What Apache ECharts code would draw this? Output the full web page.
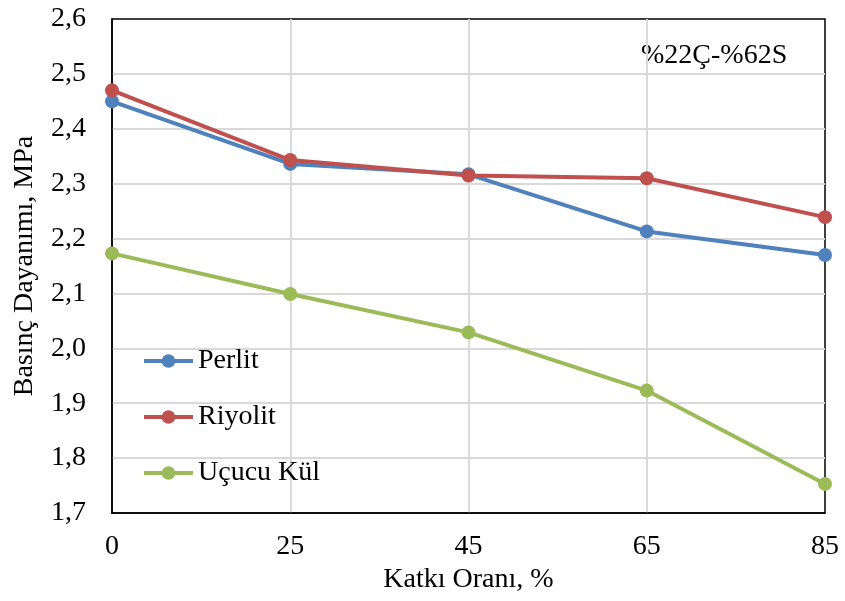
<!DOCTYPE html>
<html><head><meta charset="utf-8">
<script src="https://cdn.jsdelivr.net/npm/echarts@6/dist/echarts.min.js"></script>
<style>html,body{margin:0;padding:0;background:#fff}#c{width:845px;height:601px}</style>
</head><body><div id="c"></div>
<script>
const categories = ['0', '25', '45', '65', '85'];
const perlit = [2.45, 2.336, 2.317, 2.213, 2.170];
const riyolit = [2.47, 2.343, 2.315, 2.310, 2.239];
const ucucuKul = [2.173, 2.099, 2.029, 1.923, 1.753];
const seriesNames = ['Perlit', 'Riyolit', 'Uçucu Kül'];
const colors = ['#4F81BD', '#C0504D', '#9BBB59'];
const font = 'Liberation Serif';

const chart = echarts.init(document.getElementById('c'));
const mk = (name, data, color) => ({
  name, type: 'line', data, color,
  symbol: 'circle', symbolSize: 14,
  lineStyle: { width: 4, color },
  itemStyle: { color },
  z: 3
});
chart.setOption({
  animation: false,
  textStyle: { fontFamily: font, color: '#000' },
  grid: { left: 112, right: 20, top: 19, bottom: 88, show: true, borderColor: '#000', borderWidth: 1.5, containLabel: false },
  legend: {
    orient: 'vertical', left: 137, top: 342,
    itemWidth: 49, itemHeight: 17, itemGap: 28,
    data: seriesNames,
    lineStyle: { width: 4 },
    textStyle: { fontFamily: font, fontSize: 28, color: '#000', lineHeight: 28 }
  },
  xAxis: {
    type: 'category', data: categories, boundaryGap: false,
    name: 'Katkı Oranı, %', nameLocation: 'middle', nameGap: 51,
    nameTextStyle: { fontFamily: font, fontSize: 28, color: '#000' },
    axisLine: { lineStyle: { color: '#000', width: 1.5 } },
    axisTick: { show: false },
    axisLabel: { fontFamily: font, fontSize: 28, color: '#000', margin: 20 },
    splitLine: { show: true, showMinLine: false, showMaxLine: false, lineStyle: { color: '#d9d9d9', width: 2 } }
  },
  yAxis: {
    type: 'value', min: 1.7, max: 2.6, interval: 0.1,
    name: 'Basınç Dayanımı, MPa', nameLocation: 'middle', nameGap: 73,
    nameTextStyle: { fontFamily: font, fontSize: 28, color: '#000' },
    axisLine: { show: true, lineStyle: { color: '#000', width: 1.5 } },
    axisTick: { show: false },
    axisLabel: { fontFamily: font, fontSize: 28, color: '#000', margin: 26,
      formatter: v => v.toFixed(1).replace('.', ',') },
    splitLine: { show: true, showMinLine: false, showMaxLine: false, lineStyle: { color: '#d9d9d9', width: 2 } }
  },
  graphic: [{
    type: 'text', left: 641, top: 42,
    style: { text: '%22Ç-%62S', font: '28px "Liberation Serif"', fill: '#000' }
  }],
  series: [mk(seriesNames[0], perlit, colors[0]), mk(seriesNames[1], riyolit, colors[1]), mk(seriesNames[2], ucucuKul, colors[2])]
});
</script></body></html>
